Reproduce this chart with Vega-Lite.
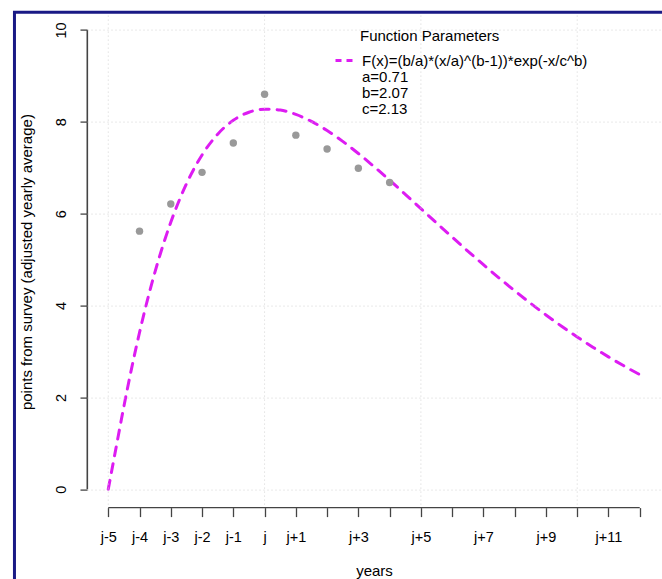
{
  "$schema": "https://vega.github.io/schema/vega-lite/v6.json",
  "width": 574,
  "height": 496,
  "autosize": {"type": "none"},
  "padding": {"left": 87, "top": 11.6, "right": 1, "bottom": 71.4},
  "background": "white",
  "config": {
    "view": {"stroke": null},
    "font": "Liberation Sans",
    "axis": {"labelColor": "#000000", "titleColor": "#000000", "titleFontWeight": "normal", "labelFont": "Liberation Sans", "titleFont": "Liberation Sans"},
    "legend": {"labelFont": "Liberation Sans", "titleFont": "Liberation Sans"}
  },
  "resolve": {"axis": {"x": "independent", "y": "independent"}},
  "datasets": {
    "curve": [
      {"x": 0, "y": 0, "s": "F(x)=(b/a)*(x/a)^(b-1))*exp(-x/c^b)"},
      {"x": 0.25, "y": 0.9057, "s": "F(x)=(b/a)*(x/a)^(b-1))*exp(-x/c^b)"},
      {"x": 0.5, "y": 1.8046, "s": "F(x)=(b/a)*(x/a)^(b-1))*exp(-x/c^b)"},
      {"x": 0.75, "y": 2.643, "s": "F(x)=(b/a)*(x/a)^(b-1))*exp(-x/c^b)"},
      {"x": 1, "y": 3.4126, "s": "F(x)=(b/a)*(x/a)^(b-1))*exp(-x/c^b)"},
      {"x": 1.25, "y": 4.1124, "s": "F(x)=(b/a)*(x/a)^(b-1))*exp(-x/c^b)"},
      {"x": 1.5, "y": 4.7437, "s": "F(x)=(b/a)*(x/a)^(b-1))*exp(-x/c^b)"},
      {"x": 1.75, "y": 5.3093, "s": "F(x)=(b/a)*(x/a)^(b-1))*exp(-x/c^b)"},
      {"x": 2, "y": 5.8129, "s": "F(x)=(b/a)*(x/a)^(b-1))*exp(-x/c^b)"},
      {"x": 2.5, "y": 6.6482, "s": "F(x)=(b/a)*(x/a)^(b-1))*exp(-x/c^b)"},
      {"x": 3, "y": 7.2782, "s": "F(x)=(b/a)*(x/a)^(b-1))*exp(-x/c^b)"},
      {"x": 3.5, "y": 7.7318, "s": "F(x)=(b/a)*(x/a)^(b-1))*exp(-x/c^b)"},
      {"x": 4, "y": 8.0336, "s": "F(x)=(b/a)*(x/a)^(b-1))*exp(-x/c^b)"},
      {"x": 4.5, "y": 8.2089, "s": "F(x)=(b/a)*(x/a)^(b-1))*exp(-x/c^b)"},
      {"x": 5, "y": 8.2763, "s": "F(x)=(b/a)*(x/a)^(b-1))*exp(-x/c^b)"},
      {"x": 5.5, "y": 8.2557, "s": "F(x)=(b/a)*(x/a)^(b-1))*exp(-x/c^b)"},
      {"x": 6, "y": 8.1618, "s": "F(x)=(b/a)*(x/a)^(b-1))*exp(-x/c^b)"},
      {"x": 6.5, "y": 8.009, "s": "F(x)=(b/a)*(x/a)^(b-1))*exp(-x/c^b)"},
      {"x": 7, "y": 7.8097, "s": "F(x)=(b/a)*(x/a)^(b-1))*exp(-x/c^b)"},
      {"x": 7.5, "y": 7.5736, "s": "F(x)=(b/a)*(x/a)^(b-1))*exp(-x/c^b)"},
      {"x": 8, "y": 7.3097, "s": "F(x)=(b/a)*(x/a)^(b-1))*exp(-x/c^b)"},
      {"x": 8.5, "y": 7.0254, "s": "F(x)=(b/a)*(x/a)^(b-1))*exp(-x/c^b)"},
      {"x": 9, "y": 6.7277, "s": "F(x)=(b/a)*(x/a)^(b-1))*exp(-x/c^b)"},
      {"x": 9.5, "y": 6.4206, "s": "F(x)=(b/a)*(x/a)^(b-1))*exp(-x/c^b)"},
      {"x": 10, "y": 6.1093, "s": "F(x)=(b/a)*(x/a)^(b-1))*exp(-x/c^b)"},
      {"x": 10.5, "y": 5.7984, "s": "F(x)=(b/a)*(x/a)^(b-1))*exp(-x/c^b)"},
      {"x": 11, "y": 5.4897, "s": "F(x)=(b/a)*(x/a)^(b-1))*exp(-x/c^b)"},
      {"x": 11.5, "y": 5.1855, "s": "F(x)=(b/a)*(x/a)^(b-1))*exp(-x/c^b)"},
      {"x": 12, "y": 4.8885, "s": "F(x)=(b/a)*(x/a)^(b-1))*exp(-x/c^b)"},
      {"x": 12.5, "y": 4.6, "s": "F(x)=(b/a)*(x/a)^(b-1))*exp(-x/c^b)"},
      {"x": 13, "y": 4.3211, "s": "F(x)=(b/a)*(x/a)^(b-1))*exp(-x/c^b)"},
      {"x": 13.5, "y": 4.0525, "s": "F(x)=(b/a)*(x/a)^(b-1))*exp(-x/c^b)"},
      {"x": 14, "y": 3.7952, "s": "F(x)=(b/a)*(x/a)^(b-1))*exp(-x/c^b)"},
      {"x": 14.5, "y": 3.5494, "s": "F(x)=(b/a)*(x/a)^(b-1))*exp(-x/c^b)"},
      {"x": 15, "y": 3.3152, "s": "F(x)=(b/a)*(x/a)^(b-1))*exp(-x/c^b)"},
      {"x": 15.5, "y": 3.0929, "s": "F(x)=(b/a)*(x/a)^(b-1))*exp(-x/c^b)"},
      {"x": 16, "y": 2.8821, "s": "F(x)=(b/a)*(x/a)^(b-1))*exp(-x/c^b)"},
      {"x": 16.5, "y": 2.6831, "s": "F(x)=(b/a)*(x/a)^(b-1))*exp(-x/c^b)"},
      {"x": 17, "y": 2.4953, "s": "F(x)=(b/a)*(x/a)^(b-1))*exp(-x/c^b)"}
    ],
    "points": [
      {"x": 1, "y": 5.62},
      {"x": 2, "y": 6.21},
      {"x": 3, "y": 6.9},
      {"x": 4, "y": 7.54},
      {"x": 5, "y": 8.6},
      {"x": 6, "y": 7.71},
      {"x": 7, "y": 7.41},
      {"x": 8, "y": 6.99},
      {"x": 9, "y": 6.68}
    ],
    "gridx": [{"x": 0}, {"x": 5}, {"x": 10}, {"x": 15}],
    "yextent": [{"y": 0}, {"y": 10}]
  },
  "layer": [
    {
      "data": {"name": "curve"},
      "mark": {"type": "line", "strokeWidth": 3, "strokeDash": [9, 8], "strokeCap": "round", "interpolate": "monotone"},
      "encoding": {
        "x": {
          "field": "x", "type": "quantitative",
          "scale": {"domain": [-0.68, 17.68], "nice": false, "zero": false},
          "axis": {
            "values": [0, 1, 2, 3, 4, 5, 6, 7, 8, 9, 10, 11, 12, 13, 14, 15, 16, 17],
            "labelExpr": "datum.value == 5 ? 'j' : (datum.value < 5 ? 'j' + (datum.value - 5) : ((datum.value - 5) % 2 == 1 ? 'j+' + (datum.value - 5) : ''))",
            "grid": false, "domain": false, "ticks": true, "tickSize": 9, "tickColor": "#444444", "tickWidth": 1.3, "tickOpacity": 1, "zindex": 2,
            "labels": true, "labelFontSize": 14.5, "labelPadding": 24.5, "labelBaseline": "alphabetic", "labelOverlap": false, "labelFlush": false,
            "title": "years", "titleFontSize": 15, "titleY": 68, "titleBaseline": "alphabetic", "orient": "bottom"
          }
        },
        "y": {
          "field": "y", "type": "quantitative",
          "scale": {"domain": [-0.4, 10.4], "nice": false, "zero": false},
          "axis": {
            "values": [0, 2, 4, 6, 8, 10],
            "grid": true, "gridColor": "#d3d3d3", "gridDash": [1, 3], "domain": false, "ticks": true, "tickSize": 7, "tickColor": "#444444", "tickWidth": 1.3, "tickOpacity": 1, "zindex": 2,
            "labelFontSize": 14.5, "labelAngle": -90, "labelAlign": "center", "labelBaseline": "alphabetic", "labelPadding": 15,
            "title": "points from survey (adjusted yearly average)", "titleFontSize": 15, "titleX": -55.5, "titleY": 250, "titleBaseline": "alphabetic", "titleAlign": "center", "titleAngle": -90, "orient": "left"
          }
        },
        "color": {
          "field": "s", "type": "nominal",
          "scale": {
            "domain": ["F(x)=(b/a)*(x/a)^(b-1))*exp(-x/c^b)", "a=0.71", "b=2.07", "c=2.13"],
            "range": ["#dd1cf2", "transparent", "transparent", "transparent"]
          },
          "legend": {
            "title": "Function Parameters", "orient": "none", "legendX": 273, "legendY": 17.4,
            "titleFontSize": 15, "titleFontWeight": "normal", "titleColor": "#000000", "titleAnchor": "start", "titlePadding": 9,
            "labelFontSize": 15, "labelColor": "#000000", "labelLimit": 600, "labelOffset": -13,
            "symbolType": "M-16,0H-6", "symbolSize": 16, "symbolStrokeWidth": 3, "symbolDash": [6, 5], "symbolFillColor": "transparent",
            "rowPadding": 0, "padding": 0
          }
        }
      }
    },
    {
      "data": {"name": "gridx"},
      "mark": {"type": "rule", "color": "#d3d3d3", "strokeWidth": 1, "strokeDash": [1, 3]},
      "encoding": {
        "x": {"field": "x", "type": "quantitative", "axis": null}
      }
    },
    {
      "data": {"name": "points"},
      "mark": {"type": "circle", "color": "#999999", "size": 55, "opacity": 1},
      "encoding": {
        "x": {"field": "x", "type": "quantitative", "axis": null},
        "y": {"field": "y", "type": "quantitative", "axis": null}
      }
    },
    {
      "data": {"values": [{}]},
      "mark": {"type": "rect", "fill": null, "fillOpacity": 0, "stroke": "#1a1a85", "strokeWidth": 3, "clip": false},
      "encoding": {
        "x": {"datum": -3.0, "type": "quantitative", "axis": null},
        "x2": {"datum": 20},
        "y": {"datum": 10.387, "type": "quantitative", "axis": null},
        "y2": {"datum": -4}
      }
    },
    {
      "data": {"values": [{}]},
      "mark": {"type": "rule", "color": "#444444", "strokeWidth": 1.3, "clip": false},
      "encoding": {
        "x": {"datum": 0, "type": "quantitative", "axis": null},
        "x2": {"datum": 17},
        "y": {"datum": -0.4, "type": "quantitative", "axis": null}
      }
    },
    {
      "data": {"name": "yextent"},
      "mark": {"type": "line", "color": "#444444", "strokeWidth": 1.6, "clip": false},
      "encoding": {
        "x": {"datum": -0.67, "type": "quantitative", "axis": null},
        "y": {"field": "y", "type": "quantitative", "axis": null}
      }
    }
  ]
}
